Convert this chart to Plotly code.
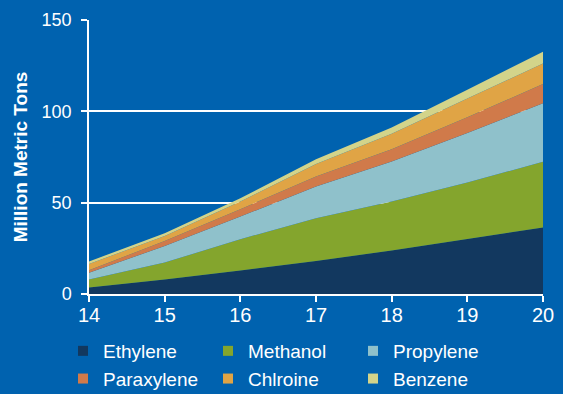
import plotly.graph_objects as go

years = [14, 15, 16, 17, 18, 19, 20]
ethylene = [3.6, 8.0, 12.8, 18.1, 23.8, 30.1, 36.4]
methanol = [4.3, 9.2, 17.2, 23.4, 26.8, 30.9, 36.0]
propylene = [3.7, 9.1, 12.4, 17.3, 21.9, 27.1, 32.0]
paraxylene = [1.4, 2.7, 4.0, 5.5, 6.8, 8.6, 10.6]
chlorine = [3.4, 2.8, 4.2, 6.8, 8.4, 10.3, 11.2]
benzene = [1.4, 1.5, 1.8, 2.7, 3.5, 4.8, 6.4]

names = ["Ethylene", "Methanol", "Propylene", "Paraxylene", "Chlroine", "Benzene"]
series = [ethylene, methanol, propylene, paraxylene, chlorine, benzene]
colors = ["#12385F", "#84A52D", "#8FC1CB", "#D07A4A", "#E0A445", "#D3D48A"]

BG = "#0062AF"
FONT = "Arial, Liberation Sans, sans-serif"

fig = go.Figure()
for name, vals, col in zip(names, series, colors):
    fig.add_trace(go.Scatter(
        x=years, y=vals, name=name, stackgroup="one", mode="none",
        fillcolor=col, line=dict(width=0), showlegend=False, hoverinfo="skip",
    ))
for name, col in zip(names, colors):
    fig.add_trace(go.Scatter(
        x=[None], y=[None], name=name, mode="markers",
        marker=dict(symbol="square", size=10, color=col), showlegend=True,
    ))

fig.update_layout(
    width=563, height=394,
    paper_bgcolor=BG, plot_bgcolor=BG,
    margin=dict(l=89, r=20, t=20, b=100, autoexpand=False),
    font=dict(family=FONT, color="white"),
    showlegend=True,
    legend=dict(
        orientation="h", x=63 / 563, xref="container", xanchor="left",
        y=1 - 332 / 394, yref="container", yanchor="top",
        traceorder="normal",
        entrywidth=100, entrywidthmode="pixels",
        itemwidth=30, font=dict(size=19, color="white", family=FONT),
        bgcolor="rgba(0,0,0,0)", tracegroupgap=0,
    ),
    xaxis=dict(
        range=[14, 20], tickvals=years, ticktext=[str(y) for y in years],
        showgrid=False, zeroline=False, showline=True, linecolor="white", linewidth=1.5,
        ticks="outside", ticklen=6, tickcolor="white", tickwidth=1.5,
        ticklabelstandoff=-4, automargin=False,
        tickfont=dict(size=20, color="white", family=FONT),
    ),
    yaxis=dict(
        range=[0, 150], tickvals=[0, 50, 100, 150],
        showgrid=True, gridcolor="white", gridwidth=1.5, zeroline=False,
        showline=True, linecolor="white", linewidth=1.5,
        ticks="outside", ticklen=6, tickcolor="white", tickwidth=1.5,
        ticklabelstandoff=6, automargin=False,
        tickfont=dict(size=18, color="white", family=FONT),
        title=dict(text="<b>Million Metric Tons</b>", font=dict(size=19, color="white", family=FONT), standoff=9),
    ),
)

fig.write_html("out.html", config={"displayModeBar": False},
               post_script="document.body.style.margin='0';")
